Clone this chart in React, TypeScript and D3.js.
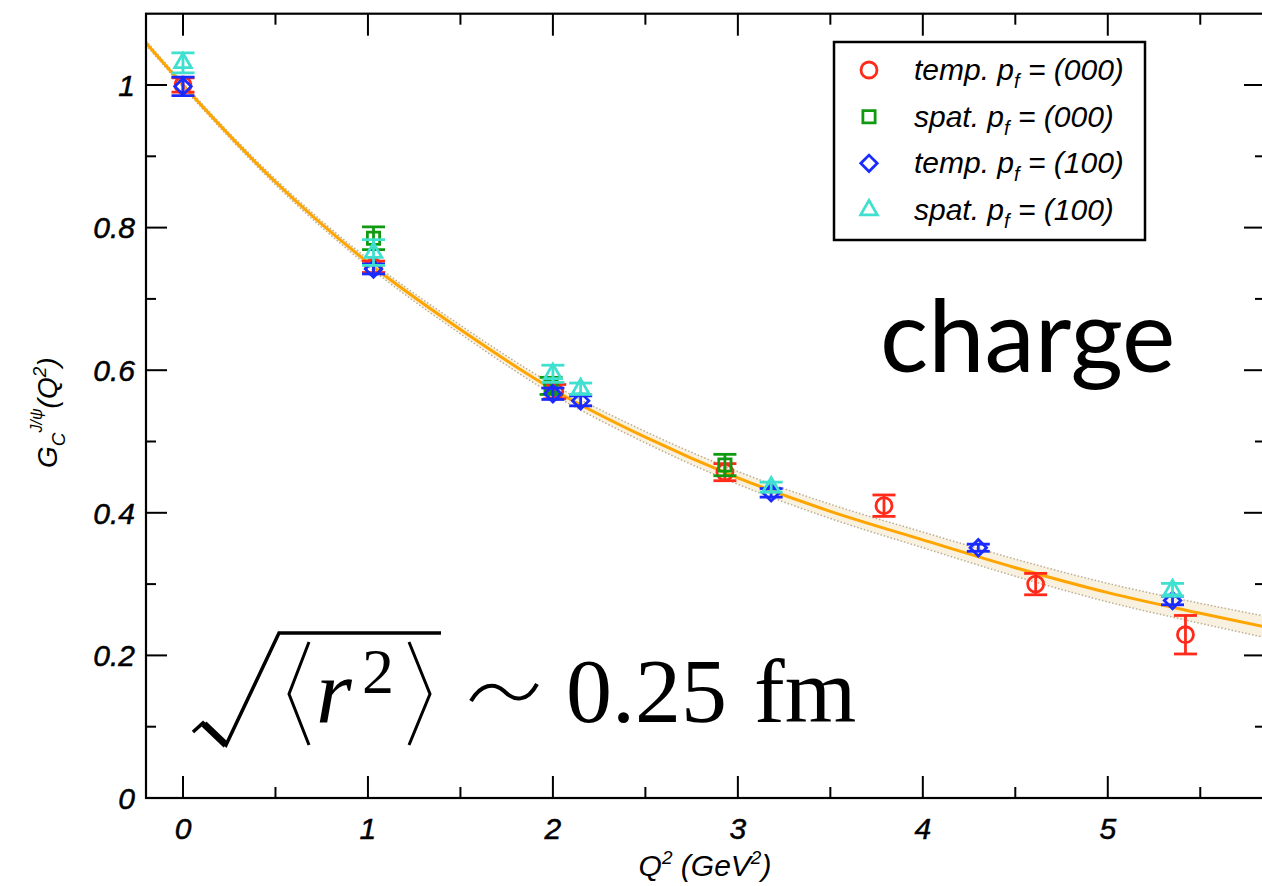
import React, { useRef, useEffect } from 'react';
import * as d3 from 'd3';

const tempP000Q2 = [0, 1.03, 2.01, 2.93, 3.79, 4.61, 5.42];
const tempP000G = [1.0, 0.745, 0.57, 0.457, 0.41, 0.30, 0.229];
const tempP000Err = [0.010, 0.008, 0.010, 0.012, 0.015, 0.015, 0.027];

const spatP000Q2 = [1.03, 1.99, 2.93];
const spatP000G = [0.785, 0.578, 0.467];
const spatP000Err = [0.016, 0.012, 0.015];

const tempP100Q2 = [0, 1.03, 2.0, 2.15, 3.18, 4.30, 5.35];
const tempP100G = [0.998, 0.742, 0.567, 0.557, 0.428, 0.351, 0.277];
const tempP100Err = [0.013, 0.007, 0.008, 0.007, 0.006, 0.005, 0.006];

const spatP100Q2 = [0, 1.03, 2.0, 2.15, 3.18, 5.35];
const spatP100G = [1.031, 0.765, 0.595, 0.574, 0.436, 0.292];
const spatP100Err = [0.014, 0.018, 0.012, 0.008, 0.007, 0.009];

// fit curve and its error band
const fitQ2 = [-0.2, 0, 0.5, 1, 1.5, 2, 2.5, 3, 3.5, 4, 4.5, 5, 5.5, 5.85];
const fitG = [1.059, 1.0, 0.864, 0.751, 0.657, 0.573, 0.506, 0.449, 0.402, 0.362, 0.323, 0.288, 0.259, 0.24];
const fitErr = [0.003, 0.003, 0.004, 0.005, 0.006, 0.007, 0.008, 0.009, 0.010, 0.011, 0.012, 0.013, 0.014, 0.015];

const xMajorTicks = [0, 1, 2, 3, 4, 5];
const xMinorTicks = [0.5, 1.5, 2.5, 3.5, 4.5, 5.5];
const yMajorTicks = [0, 0.2, 0.4, 0.6, 0.8, 1];
const yMinorTicks = [0.1, 0.3, 0.5, 0.7, 0.9];

const legendLabels = ['temp.', 'spat.', 'temp.', 'spat.'];
const legendMomenta = ['(000)', '(000)', '(100)', '(100)'];

const App = () => {
  const svgRef = useRef(null);

  useEffect(() => {
    const width = 1262;
    const height = 886;
    const left = 146, right = 1265, top = 13.7, bottom = 798;

    const svg = d3.select(svgRef.current)
      .attr('width', width)
      .attr('height', height);
    svg.selectAll('*').remove();

    const x = d3.scaleLinear().domain([-0.2, 5.85]).range([left, right]);
    const y = d3.scaleLinear().domain([0, 1.1]).range([bottom, top]);

    const sans = '"Liberation Sans", Arial, Helvetica, sans-serif';

    svg.append('defs').append('clipPath').attr('id', 'plotclip')
      .append('rect')
      .attr('x', left).attr('y', top)
      .attr('width', right - left).attr('height', bottom - top);

    const plot = svg.append('g').attr('clip-path', 'url(#plotclip)');

    // fit band
    const fit = fitQ2.map((q, i) => ({ q, g: fitG[i], e: fitErr[i] }));
    const band = d3.area()
      .x(d => x(d.q))
      .y0(d => y(d.g - d.e))
      .y1(d => y(d.g + d.e))
      .curve(d3.curveMonotoneX);
    plot.append('path')
      .datum(fit)
      .attr('fill', '#f3e3c0')
      .attr('opacity', 0.5)
      .attr('d', band);
    [1, -1].forEach(s => {
      plot.append('path')
        .datum(fit)
        .attr('fill', 'none')
        .attr('stroke', '#bcae94')
        .attr('stroke-width', 1.5)
        .attr('stroke-dasharray', '1.5,2')
        .attr('d', d3.line().x(d => x(d.q)).y(d => y(d.g + s * d.e)).curve(d3.curveMonotoneX));
    });
    plot.append('path')
      .datum(fit)
      .attr('fill', 'none')
      .attr('stroke', '#ffa500')
      .attr('stroke-width', 3)
      .attr('d', d3.line().x(d => x(d.q)).y(d => y(d.g)).curve(d3.curveMonotoneX));

    const series = [
      { q: tempP000Q2, g: tempP000G, e: tempP000Err, color: '#ff2a1a', sym: 'circle' },
      { q: spatP000Q2, g: spatP000G, e: spatP000Err, color: '#119911', sym: 'square' },
      { q: tempP100Q2, g: tempP100G, e: tempP100Err, color: '#1a2bff', sym: 'diamond' },
      { q: spatP100Q2, g: spatP100G, e: spatP100Err, color: '#40e0d0', sym: 'triangle' },
    ];

    const symbolPath = (sym) => {
      if (sym === 'circle') return d3.symbol(d3.symbolCircle, 200)();
      if (sym === 'square') return d3.symbol(d3.symbolSquare, 150)();
      if (sym === 'diamond') return d3.symbol(d3.symbolSquare, 135)();
      return d3.symbol(d3.symbolTriangle, 120)();
    };

    const drawMarker = (g, sym, cx, cy, color) => {
      g.append('path')
        .attr('d', symbolPath(sym))
        .attr('transform', `translate(${cx},${cy})${sym === 'diamond' ? ' rotate(45)' : ''}`)
        .attr('fill', 'none')
        .attr('stroke', color)
        .attr('stroke-width', 2.8);
    };

    series.forEach(s => {
      const g = plot.append('g');
      s.q.forEach((q, i) => {
        const cx = x(q);
        const y1 = y(s.g[i] + s.e[i]);
        const y0 = y(s.g[i] - s.e[i]);
        g.append('line').attr('x1', cx).attr('x2', cx).attr('y1', y1).attr('y2', y0)
          .attr('stroke', s.color).attr('stroke-width', 2.8);
        [y0, y1].forEach(yy => {
          g.append('line').attr('x1', cx - 11.5).attr('x2', cx + 11.5).attr('y1', yy).attr('y2', yy)
            .attr('stroke', s.color).attr('stroke-width', 2.8);
        });
        drawMarker(g, s.sym, cx, y(s.g[i]), s.color);
      });
    });

    // frame
    svg.append('rect')
      .attr('x', left).attr('y', top)
      .attr('width', right - left).attr('height', bottom - top)
      .attr('fill', 'none').attr('stroke', '#000').attr('stroke-width', 2.2);

    // inward ticks on all sides
    const ticks = svg.append('g').attr('stroke', '#000').attr('stroke-width', 2);
    xMajorTicks.concat(xMinorTicks).forEach(v => {
      const len = xMajorTicks.includes(v) ? 22 : 11;
      ticks.append('line').attr('x1', x(v)).attr('x2', x(v)).attr('y1', bottom).attr('y2', bottom - len);
      ticks.append('line').attr('x1', x(v)).attr('x2', x(v)).attr('y1', top).attr('y2', top + len);
    });
    yMajorTicks.concat(yMinorTicks).forEach(v => {
      const len = yMajorTicks.includes(v) ? 21 : 10;
      ticks.append('line').attr('x1', left).attr('x2', left + len).attr('y1', y(v)).attr('y2', y(v));
      ticks.append('line').attr('x1', right).attr('x2', right - len).attr('y1', y(v)).attr('y2', y(v));
    });

    // tick labels
    const labelStyle = sel => sel
      .attr('font-family', sans).attr('font-style', 'italic').attr('font-size', 30)
      .attr('stroke', '#000').attr('stroke-width', 0.5);
    xMajorTicks.forEach(v => {
      svg.append('text')
        .attr('x', x(v)).attr('y', 839)
        .attr('text-anchor', 'middle')
        .call(labelStyle)
        .text(d3.format('')(v));
    });
    yMajorTicks.forEach(v => {
      svg.append('text')
        .attr('x', 135).attr('y', y(v)).attr('dy', '0.36em')
        .attr('text-anchor', 'end')
        .call(labelStyle)
        .text(v === 0 || v === 1 ? String(v) : d3.format('.1f')(v));
    });

    // axis titles
    const xt = svg.append('text')
      .attr('x', 705).attr('y', 876)
      .attr('text-anchor', 'middle')
      .attr('font-family', sans).attr('font-style', 'italic').attr('font-size', 30);
    xt.append('tspan').text('Q');
    xt.append('tspan').attr('font-size', 19).attr('dy', -12).text('2');
    xt.append('tspan').attr('dy', 12).text(' (GeV');
    xt.append('tspan').attr('font-size', 19).attr('dy', -12).text('2');
    xt.append('tspan').attr('dy', 12).text(')');

    const yt = svg.append('text')
      .attr('transform', 'translate(57,468) rotate(-90)')
      .attr('font-family', sans).attr('font-style', 'italic').attr('font-size', 28);
    yt.append('tspan').text('G');
    yt.append('tspan').attr('font-size', 19).attr('dy', 8).text('C');
    yt.append('tspan').attr('font-size', 16).attr('dy', -23).text('J/ψ');
    yt.append('tspan').attr('dy', 15).text('(Q');
    yt.append('tspan').attr('font-size', 19).attr('dy', -11).text('2');
    yt.append('tspan').attr('dy', 11).text(')');

    // legend
    const lg = svg.append('g');
    lg.append('rect')
      .attr('x', 834).attr('y', 42).attr('width', 311).attr('height', 198)
      .attr('fill', '#fff').attr('stroke', '#000').attr('stroke-width', 2.5);
    const rowY = d3.scalePoint().domain(d3.range(series.length)).range([70, 210]);
    series.forEach((s, i) => {
      drawMarker(lg, s.sym, 869, rowY(i), s.color);
      const t = lg.append('text')
        .attr('x', 914).attr('y', rowY(i) + 10)
        .attr('font-family', sans).attr('font-style', 'italic').attr('font-size', 30);
      t.append('tspan').text(`${legendLabels[i]} p`);
      t.append('tspan').attr('font-size', 20).attr('dy', 8).text('f');
      t.append('tspan').attr('dy', -8).text(` = ${legendMomenta[i]}`);
    });

    // "charge" annotation
    svg.append('text')
      .attr('x', 880).attr('y', 372)
      .attr('font-family', 'Lato, "Open Sans", sans-serif')
      .attr('font-size', 101)
      .attr('fill', '#000')
      .text('charge');

    // sqrt(<r^2>) ~ 0.25 fm
    const eq = svg.append('g');
    const serif = '"Liberation Serif", "DejaVu Serif", serif';
    eq.append('path')
      .attr('d', 'M193,732 L203,723 L226,745 L279,633 L441,633')
      .attr('fill', 'none').attr('stroke', '#000').attr('stroke-width', 3.5)
      .attr('stroke-linejoin', 'miter');
    eq.append('path')
      .attr('d', 'M204,724 L226,745')
      .attr('stroke', '#000').attr('stroke-width', 7);
    eq.append('path')
      .attr('d', 'M309,642 L289,694 L309,745 M409,642 L430,694 L409,745')
      .attr('fill', 'none').attr('stroke', '#000').attr('stroke-width', 3);
    eq.append('text').attr('x', 316).attr('y', 722)
      .attr('font-family', serif).attr('font-style', 'italic').attr('font-size', 92).text('r');
    eq.append('text').attr('x', 362).attr('y', 693)
      .attr('font-family', serif).attr('font-size', 64).text('2');
    eq.append('path')
      .attr('d', 'M471,701 C481,684 494,682 504,691 C514,701 527,703 537,684')
      .attr('fill', 'none').attr('stroke', '#000').attr('stroke-width', 4);
    eq.append('text').attr('x', 566).attr('y', 722)
      .attr('font-family', serif).attr('font-size', 92).text('0.25');
    eq.append('text').attr('x', 754).attr('y', 722)
      .attr('font-family', serif).attr('font-size', 92).text('fm');
  }, []);

  return (
    <svg ref={svgRef} style={{ position: 'absolute', left: 0, top: 0 }}></svg>
  );
};

export default App;
